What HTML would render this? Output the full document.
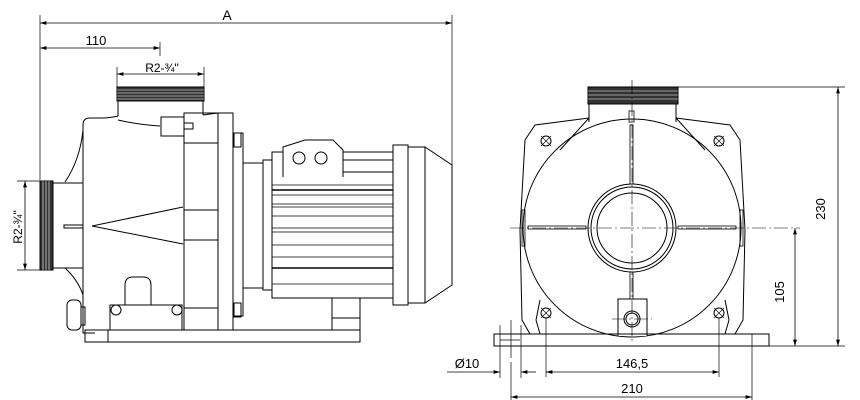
<!DOCTYPE html>
<html><head><meta charset="utf-8"><style>
html,body{margin:0;padding:0;background:#fff;}
svg{display:block;}
text{font-family:"Liberation Sans",sans-serif;fill:#000;}
</style></head><body>
<svg width="860" height="400" viewBox="0 0 860 400" xmlns="http://www.w3.org/2000/svg">
<defs>
<marker id="a" viewBox="0 0 10 6" refX="10" refY="3" markerWidth="8" markerHeight="5" orient="auto-start-reverse"><path d="M0,0L10,3L0,6z" fill="#000"/></marker>
</defs>
<g fill="none" stroke="#000" stroke-width="1">
<!-- LEFT VIEW dims -->
<line x1="40" y1="15" x2="40" y2="180" stroke-width="0.7"/>
<line x1="452" y1="15" x2="452" y2="165" stroke-width="0.7"/>
<line x1="40" y1="23" x2="452" y2="23" marker-start="url(#a)" marker-end="url(#a)" stroke-width="0.8"/>
<line x1="40" y1="48" x2="160" y2="48" marker-start="url(#a)" marker-end="url(#a)" stroke-width="0.8"/>
<line x1="160" y1="42" x2="160" y2="56" stroke-width="0.7"/>
<line x1="117" y1="67" x2="117" y2="88" stroke-width="0.7"/>
<line x1="204" y1="67" x2="204" y2="88" stroke-width="0.7"/>
<line x1="117" y1="74" x2="204" y2="74" marker-start="url(#a)" marker-end="url(#a)" stroke-width="0.8"/>
<line x1="17" y1="181" x2="40" y2="181" stroke-width="0.7"/>
<line x1="17" y1="270" x2="40" y2="270" stroke-width="0.7"/>
<line x1="25" y1="181" x2="25" y2="270" marker-start="url(#a)" marker-end="url(#a)" stroke-width="0.8"/>
<!-- outlet -->
<rect x="117" y="87" width="87" height="14" fill="#333"/>
<g stroke="#fff" stroke-width="0.6"><line x1="117" y1="90" x2="204" y2="90"/><line x1="117" y1="93" x2="204" y2="93"/><line x1="117" y1="96" x2="204" y2="96"/><line x1="117" y1="99" x2="204" y2="99"/></g>
<line x1="118" y1="101" x2="118" y2="116"/><line x1="203" y1="101" x2="203" y2="115"/>
<!-- body -->
<path d="M83,125 Q83,118 90,118 L105,118 Q115,117 118,116"/>
<path d="M118,120 Q140,125 160,126"/>
<path d="M203,115 L218,113"/>
<path d="M83,125 L83,333 L95,333"/>
<path d="M83,130 Q80,160 65,182"/>
<path d="M65,268 Q78,280 83,295"/>
<rect x="161" y="117" width="23" height="19"/>
<rect x="184" y="123" width="9" height="6"/>
<rect x="184" y="113" width="34" height="217"/>
<line x1="184" y1="143" x2="218" y2="143"/><line x1="184" y1="210" x2="218" y2="210"/><line x1="184" y1="240" x2="218" y2="240"/><line x1="184" y1="308" x2="218" y2="308"/>
<rect x="218" y="113" width="15" height="217"/>
<rect x="233" y="133" width="10" height="183"/>
<rect x="234" y="133" width="7" height="14"/><rect x="234" y="303" width="7" height="14"/>
<rect x="243" y="163" width="20" height="125"/>
<rect x="263" y="160" width="9" height="130"/>
<rect x="272" y="152" width="121" height="146"/>
<g stroke-width="0.8">
<line x1="272" y1="195" x2="393" y2="195"/><line x1="272" y1="204" x2="393" y2="204"/><line x1="272" y1="207" x2="393" y2="207"/>
<line x1="272" y1="216" x2="393" y2="216"/><line x1="272" y1="228" x2="393" y2="228"/><line x1="272" y1="232" x2="393" y2="232"/>
<line x1="272" y1="245" x2="393" y2="245"/><line x1="272" y1="257" x2="393" y2="257"/><line x1="272" y1="268" x2="393" y2="268"/>
<line x1="272" y1="284" x2="393" y2="284"/><line x1="272" y1="185" x2="393" y2="185"/>
</g>
<line x1="272" y1="190" x2="393" y2="190" stroke-width="1.4"/>
<line x1="272" y1="268" x2="393" y2="268" stroke-width="1.4"/>
<path d="M283,177 L283,147 L305,140 L333,140 L343,150 L343,177" fill="#fff"/>
<line x1="343" y1="160" x2="393" y2="160"/><line x1="343" y1="172" x2="393" y2="172"/>
<circle cx="299" cy="158" r="6"/><circle cx="321" cy="158" r="6"/>
<rect x="393" y="145" width="15" height="160"/>
<path d="M408,147 L425,147 L452,165 L452,285 L425,303 L408,303"/>
<line x1="425" y1="147" x2="425" y2="303"/>
<!-- inlet -->
<rect x="40" y="181" width="13" height="89" fill="#333"/>
<g stroke="#fff" stroke-width="0.6"><line x1="43" y1="181" x2="43" y2="270"/><line x1="46" y1="181" x2="46" y2="270"/><line x1="49" y1="181" x2="49" y2="270"/></g>
<rect x="53" y="183" width="30" height="85"/>
<rect x="64" y="225" width="19" height="3"/>
<line x1="92" y1="226" x2="183" y2="207"/><line x1="92" y1="226" x2="183" y2="244"/>
<!-- base -->
<rect x="85" y="330" width="275" height="12"/>
<line x1="108" y1="330" x2="108" y2="342"/>
<rect x="67" y="300" width="14" height="30" rx="5"/>
<rect x="81" y="307" width="4" height="18"/>
<path d="M125,305 L125,285 Q125,277 133,277 L143,277 Q151,277 151,285 L151,305"/>
<rect x="110" y="305" width="72" height="25"/>
<circle cx="116" cy="310" r="5"/><circle cx="177" cy="310" r="5"/>
<rect x="332" y="298" width="28" height="32"/>
<line x1="332" y1="318" x2="360" y2="318"/>
</g>
<text x="227" y="20" font-size="14" text-anchor="middle">A</text>
<text x="96" y="45" font-size="13" text-anchor="middle">110</text>
<text x="162" y="72" font-size="12" text-anchor="middle">R2-¾"</text>
<text transform="translate(22,227) rotate(-90)" font-size="12" text-anchor="middle">R2-¾"</text>

<!-- RIGHT VIEW -->
<g fill="none" stroke="#000" stroke-width="1">
<line x1="678" y1="87" x2="845" y2="87" stroke-width="0.7"/>
<line x1="760" y1="346" x2="845" y2="346" stroke-width="0.7"/>
<line x1="838" y1="87" x2="838" y2="346" marker-start="url(#a)" marker-end="url(#a)" stroke-width="0.8"/>
<line x1="795" y1="228" x2="795" y2="346" marker-start="url(#a)" marker-end="url(#a)" stroke-width="0.8"/>
<rect x="588" y="87" width="90" height="17" fill="#333"/>
<g stroke="#fff" stroke-width="0.6"><line x1="588" y1="91" x2="678" y2="91"/><line x1="588" y1="95" x2="678" y2="95"/><line x1="588" y1="99" x2="678" y2="99"/></g>
<line x1="589" y1="104" x2="589" y2="122"/><line x1="676" y1="104" x2="676" y2="122"/>
<path d="M589,118 L535,125 L525,140 L520,230 L522,320 L530,334"/>
<path d="M676,118 L730,125 L740,140 L745,230 L743,320 L735,334"/>
<path d="M589,118 L560,150"/><path d="M676,118 L705,150"/>
<path d="M540,300 L536,320 L540,334 M725,300 L729,320 L725,334"/>
<circle cx="632" cy="228" r="109"/>
<circle cx="632" cy="228" r="44"/><circle cx="632" cy="228" r="41"/><circle cx="632" cy="228" r="35"/>
<rect x="629" y="111" width="5" height="11" stroke-width="0.8"/>
<rect x="630" y="125" width="3" height="59" stroke-width="0.8"/>
<rect x="630" y="272" width="3" height="27" stroke-width="0.8"/>
<rect x="528" y="226" width="58" height="3" stroke-width="0.8"/>
<rect x="678" y="226" width="58" height="3" stroke-width="0.8"/>
<rect x="522" y="210" width="3" height="36" stroke-width="0.8"/>
<rect x="740" y="210" width="3" height="36" stroke-width="0.8"/>
<circle cx="546" cy="141" r="5"/><circle cx="719" cy="141" r="5"/>
<circle cx="546" cy="313" r="5"/><circle cx="719" cy="313" r="5"/>
<path d="M541,136l10,10M551,136l-10,10M714,136l10,10M724,136l-10,10M541,308l10,10M551,308l-10,10M714,308l10,10M724,308l-10,10" stroke-width="0.6"/>
<path d="M618,336 L618,299 L647,299 L647,336" fill="#fff"/>
<circle cx="632" cy="319" r="8"/><circle cx="632" cy="319" r="6"/>
<path d="M494,334 L769,334 L769,346 L494,346 Z"/>
<line x1="500" y1="340" x2="520" y2="340" stroke-width="0.7"/>
<!-- centerlines -->
<g stroke-width="0.6" stroke-dasharray="14,3,2,3">
<line x1="632" y1="80" x2="632" y2="343"/>
<line x1="510" y1="228" x2="800" y2="228"/>
<line x1="612" y1="319" x2="652" y2="319"/>
</g>
<!-- bottom dims -->
<line x1="500" y1="325" x2="500" y2="378" stroke-width="0.7"/>
<line x1="521" y1="325" x2="521" y2="378" stroke-width="0.7"/>
<line x1="511" y1="320" x2="511" y2="358" stroke-width="0.7"/>
<line x1="447" y1="372" x2="500" y2="372" marker-end="url(#a)" stroke-width="0.8"/>
<line x1="521" y1="372" x2="536" y2="372" marker-start="url(#a)" stroke-width="0.8"/>
<line x1="546" y1="318" x2="546" y2="377" stroke-width="0.7"/>
<line x1="719" y1="318" x2="719" y2="377" stroke-width="0.7"/>
<line x1="546" y1="372" x2="719" y2="372" marker-start="url(#a)" marker-end="url(#a)" stroke-width="0.8"/>
<line x1="511" y1="362" x2="511" y2="400" stroke-width="0.7"/>
<line x1="752" y1="334" x2="752" y2="400" stroke-width="0.7"/>
<line x1="511" y1="397" x2="752" y2="397" marker-start="url(#a)" marker-end="url(#a)" stroke-width="0.8"/>
</g>
<text transform="translate(825,209) rotate(-90)" font-size="13" text-anchor="middle">230</text>
<text transform="translate(784,292) rotate(-90)" font-size="13" text-anchor="middle">105</text>
<text x="632" y="368" font-size="13" text-anchor="middle">146,5</text>
<text x="632" y="393" font-size="13" text-anchor="middle">210</text>
<text x="467" y="368" font-size="13" text-anchor="middle">Ø10</text>
</svg>
</body></html>
